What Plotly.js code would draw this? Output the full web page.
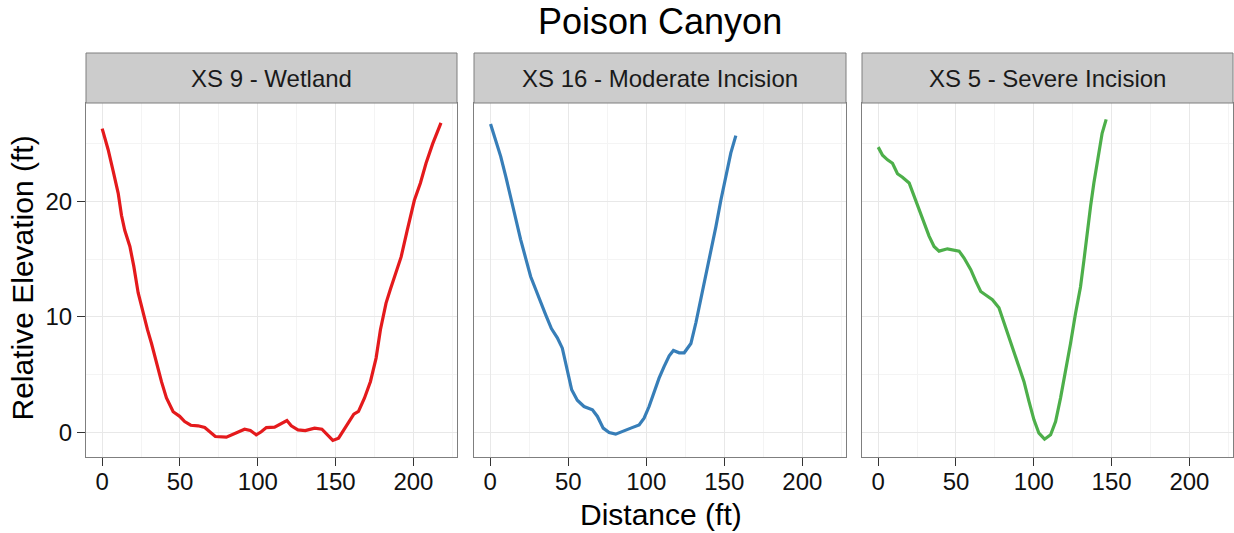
<!DOCTYPE html>
<html>
<head>
<meta charset="utf-8">
<script src="https://cdn.plot.ly/plotly-3.0.1.min.js"></script>
<style>html,body{margin:0;padding:0;background:#fff;}#chart{width:1234px;height:533px;}</style>
</head>
<body>
<div id="chart"></div>
<script>
// ---- Data ----
const panelTitles = ["XS 9 - Wetland", "XS 16 - Moderate Incision", "XS 5 - Severe Incision"];
const colors = ["#E41A1C", "#377EB8", "#4DAF4A"];

const xs9Dist = [0, 3.8, 7.1, 10.3, 12.4, 14.5, 17.8, 20.3, 23.1, 26.3, 29.1, 31.7, 34.9, 38.1, 41.3, 45.6, 49.8, 53.0, 56.9, 61.6, 65.9, 69.1, 72.7, 79.8, 84.1, 88.3, 91.5, 95.2, 99.0, 102.2, 105.5, 110.8, 115.1, 118.7, 121.5, 125.8, 130.5, 136.5, 141.2, 145.0, 148.2, 151.9, 156.8, 161.7, 164.7, 168.5, 172.4, 176.0, 178.8, 182.4, 185.2, 188.9, 192.1, 196.0, 200.6, 204.5, 208.1, 212.4, 217.7];
const xs9Elev = [26.3, 24.5, 22.6, 20.7, 18.8, 17.5, 16.1, 14.4, 12.1, 10.3, 8.9, 7.7, 6.0, 4.4, 3.0, 1.8, 1.4, 0.95, 0.63, 0.58, 0.43, 0.03, -0.35, -0.4, -0.14, 0.14, 0.29, 0.17, -0.2, 0.06, 0.43, 0.46, 0.75, 1.04, 0.58, 0.23, 0.17, 0.38, 0.29, -0.2, -0.69, -0.49, 0.52, 1.59, 1.82, 2.97, 4.42, 6.44, 8.9, 11.2, 12.4, 13.8, 15.2, 17.5, 20.1, 21.6, 23.3, 25.0, 26.8];

const xs16Dist = [0.2, 3.4, 6.7, 9.9, 13.1, 16.3, 19.5, 22.7, 25.9, 29.1, 32.3, 35.5, 39.2, 43.0, 46.2, 49.0, 52.2, 55.8, 60.1, 65.5, 68.7, 72.4, 76.2, 80.4, 84.7, 90.1, 95.4, 98.6, 101.8, 105.0, 108.2, 111.4, 114.7, 117.4, 121.1, 124.3, 128.6, 131.8, 135.0, 138.2, 141.4, 144.6, 147.8, 151.1, 154.2, 157.4];
const xs16Elev = [26.7, 25.3, 23.9, 22.2, 20.3, 18.6, 16.7, 15.1, 13.5, 12.4, 11.2, 10.2, 9.0, 8.2, 7.3, 5.7, 3.7, 2.8, 2.25, 1.96, 1.39, 0.38, 0.0, -0.14, 0.06, 0.38, 0.66, 1.24, 2.25, 3.55, 4.7, 5.7, 6.64, 7.1, 6.9, 6.9, 7.7, 9.5, 11.5, 13.5, 15.8, 17.8, 20.1, 22.2, 24.2, 25.7];

const xs5Dist = [0, 2.8, 6.0, 9.2, 12.4, 15.6, 19.9, 23.1, 26.3, 29.5, 32.7, 35.9, 39.1, 44.5, 48.8, 52.0, 55.2, 59.5, 62.7, 65.9, 69.1, 73.4, 77.6, 80.8, 84.1, 87.3, 90.5, 93.7, 96.9, 100.1, 103.3, 106.9, 110.8, 114.0, 117.2, 120.4, 123.6, 126.8, 130.0, 132.2, 134.3, 136.5, 138.6, 141.2, 143.9, 146.5];
const xs5Elev = [24.7, 24.0, 23.6, 23.3, 22.4, 22.1, 21.6, 20.4, 19.3, 18.0, 17.0, 16.1, 15.7, 15.9, 15.8, 15.7, 15.1, 14.1, 13.1, 12.2, 11.9, 11.5, 10.8, 9.5, 8.25, 6.9, 5.6, 4.4, 2.7, 1.1, -0.06, -0.58, -0.2, 0.95, 3.0, 5.3, 7.7, 10.3, 12.6, 14.9, 17.3, 19.6, 21.6, 23.9, 25.9, 27.1];

const xTickVals = [0, 50, 100, 150, 200];
const yTickVals = [0, 10, 20];

const mainTitle = "Poison Canyon";
const xTitle = "Distance (ft)";
const yTitle = "Relative Elevation (ft)";

// ---- Layout ----
const W = 1234, H = 533;
const FONT = "Liberation Sans, Arial, Helvetica, sans-serif";
const panelsPx = [[86, 457], [474, 846], [862, 1233]];
const plotTop = 103, plotBottom = 457, stripTop = 53;
const yDom = [(H - plotBottom) / H, (H - plotTop) / H];
const stripDom = [(H - plotTop) / H, (H - stripTop) / H];
const xRange = [-10.4, 228.0];
const yRange = [-2.12, 28.52];

const series = [[xs9Dist, xs9Elev], [xs16Dist, xs16Elev], [xs5Dist, xs5Elev]];

const traces = series.map((s, i) => ({
  type: "scatter", mode: "lines",
  x: s[0], y: s[1],
  xaxis: i === 0 ? "x" : "x" + (i + 1),
  yaxis: i === 0 ? "y" : "y" + (i + 1),
  line: {color: colors[i], width: 3.2, shape: "linear"},
  hoverinfo: "skip", showlegend: false
}));

const layout = {
  width: W, height: H,
  margin: {l: 0, r: 0, t: 0, b: 0, pad: 0},
  paper_bgcolor: "#ffffff", plot_bgcolor: "#ffffff",
  font: {family: FONT, color: "#111111"},
  showlegend: false,
  shapes: [], annotations: []
};

panelsPx.forEach((p, i) => {
  const xn = i === 0 ? "xaxis" : "xaxis" + (i + 1);
  const yn = i === 0 ? "yaxis" : "yaxis" + (i + 1);
  const xr = i === 0 ? "x" : "x" + (i + 1);
  const yr = i === 0 ? "y" : "y" + (i + 1);
  layout[xn] = {
    domain: [p[0] / W, p[1] / W], anchor: yr,
    range: xRange, tickvals: xTickVals, ticktext: xTickVals.map(String),
    ticks: "outside", ticklen: 8, tickwidth: 1, tickcolor: "#333333",
    ticklabelstandoff: -5,
    tickfont: {size: 24, color: "#111111", family: FONT},
    showgrid: true, gridcolor: "#E8E8E8", gridwidth: 1,
    minor: {dtick: 25, tick0: 0, showgrid: true, gridcolor: "#F4F4F4", gridwidth: 1, ticks: ""},
    zeroline: false, showline: true, mirror: true, linecolor: "#7F7F7F", linewidth: 1,
    fixedrange: true
  };
  layout[yn] = {
    domain: yDom, anchor: xr,
    range: yRange, tickvals: yTickVals, ticktext: yTickVals.map(String),
    ticks: i === 0 ? "outside" : "", ticklen: 8, tickwidth: 1, tickcolor: "#333333",
    showticklabels: i === 0,
    tickfont: {size: 24, color: "#111111", family: FONT},
    showgrid: true, gridcolor: "#E8E8E8", gridwidth: 1,
    minor: {dtick: 5, tick0: 0, showgrid: true, gridcolor: "#F4F4F4", gridwidth: 1, ticks: ""},
    zeroline: false, showline: true, mirror: true, linecolor: "#7F7F7F", linewidth: 1,
    fixedrange: true
  };
  layout.shapes.push({
    type: "rect", xref: "paper", yref: "paper",
    x0: p[0] / W, x1: p[1] / W, y0: stripDom[0], y1: stripDom[1],
    fillcolor: "#CCCCCC", line: {color: "#7F7F7F", width: 1}, layer: "above"
  });
  layout.annotations.push({
    text: panelTitles[i], xref: "paper", yref: "paper",
    x: (p[0] + p[1]) / 2 / W, y: (H - 78) / H, xanchor: "center", yanchor: "middle",
    showarrow: false, font: {size: 24, color: "#1A1A1A", family: FONT}
  });
});

layout.annotations.push({
  text: mainTitle, xref: "paper", yref: "paper",
  x: 660 / W, y: (H - 21) / H, xanchor: "center", yanchor: "middle",
  showarrow: false, font: {size: 36, color: "#000000", family: FONT}
});
layout.annotations.push({
  text: xTitle, xref: "paper", yref: "paper",
  x: 661 / W, y: (H - 514.5) / H, xanchor: "center", yanchor: "middle",
  showarrow: false, font: {size: 30, color: "#000000", family: FONT}
});
layout.annotations.push({
  text: yTitle, xref: "paper", yref: "paper", textangle: -90,
  x: 21.5 / W, y: (H - 278) / H, xanchor: "center", yanchor: "middle",
  showarrow: false, font: {size: 30, color: "#000000", family: FONT}
});

Plotly.newPlot("chart", traces, layout, {staticPlot: true, displayModeBar: false});
</script>
</body>
</html>
